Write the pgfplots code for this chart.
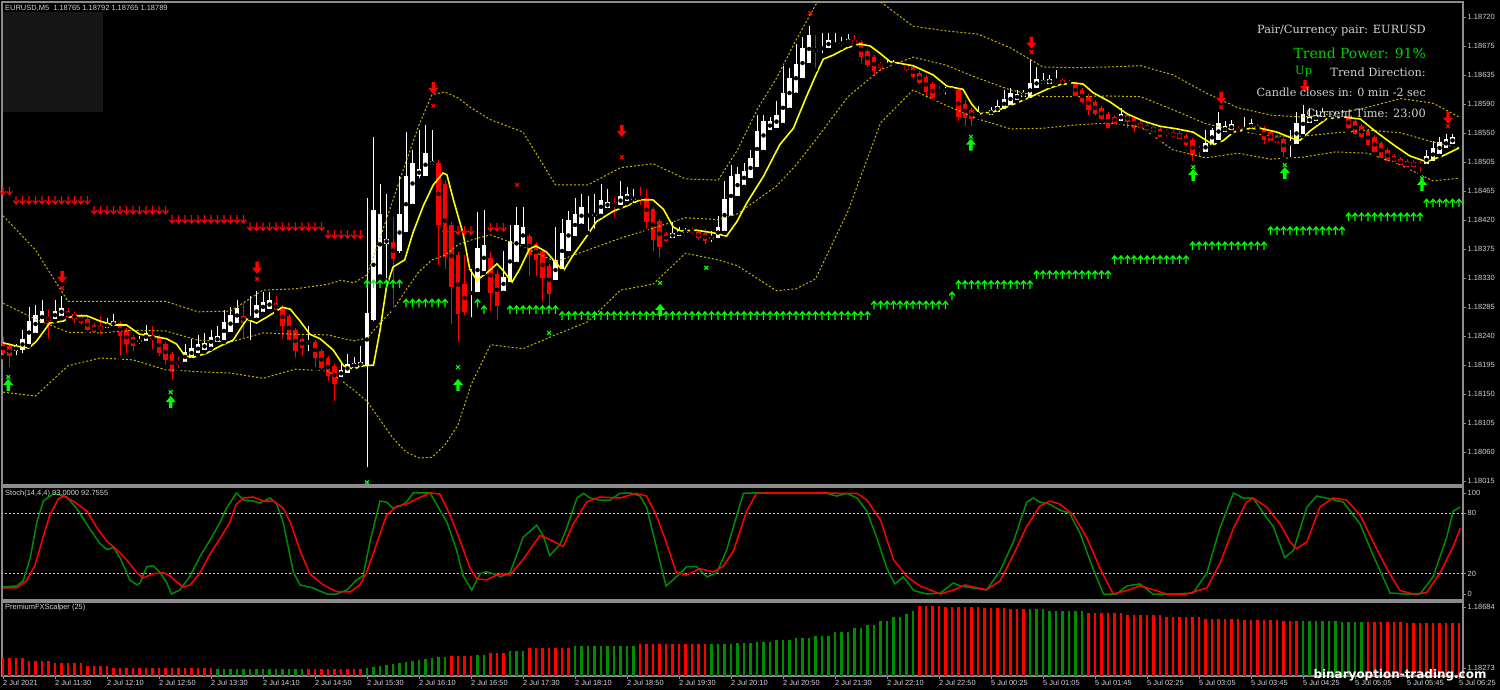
\documentclass[border=0pt]{standalone}
\usepackage{pgfplots}
\pgfplotsset{compat=1.18}
\usepackage{pgfplotstable}
\usepackage{fontspec}
\setmainfont{Liberation Sans}
\newfontfamily\dvserif{DejaVu Serif}
\newfontfamily\dvsans{DejaVu Sans}
\definecolor{cred}{RGB}{255,0,0}
\definecolor{cgreen}{RGB}{0,255,0}
\definecolor{sgreen}{RGB}{0,140,0}
\definecolor{band}{RGB}{200,180,0}
\definecolor{frame}{RGB}{140,140,140}
\definecolor{lbl}{RGB}{210,210,210}
\definecolor{myyellow}{RGB}{255,255,0}
\definecolor{darkbox}{RGB}{22,22,22}
\definecolor{tgreen}{RGB}{0,210,0}

\pgfdeclareplotmark{sdn}{%
  \pgfpathmoveto{\pgfqpoint{0bp}{4bp}}\pgfpathlineto{\pgfqpoint{0bp}{-4bp}}%
  \pgfpathmoveto{\pgfqpoint{-2.8bp}{-0.6bp}}\pgfpathlineto{\pgfqpoint{0bp}{-4bp}}\pgfpathlineto{\pgfqpoint{2.8bp}{-0.6bp}}%
  \pgfusepathqstroke}
\pgfdeclareplotmark{sup}{%
  \pgfpathmoveto{\pgfqpoint{0bp}{-4bp}}\pgfpathlineto{\pgfqpoint{0bp}{4bp}}%
  \pgfpathmoveto{\pgfqpoint{-2.8bp}{0.6bp}}\pgfpathlineto{\pgfqpoint{0bp}{4bp}}\pgfpathlineto{\pgfqpoint{2.8bp}{0.6bp}}%
  \pgfusepathqstroke}
\pgfdeclareplotmark{bdn}{%
  \pgfpathmoveto{\pgfqpoint{-1.7bp}{6bp}}\pgfpathlineto{\pgfqpoint{1.7bp}{6bp}}\pgfpathlineto{\pgfqpoint{1.7bp}{0bp}}%
  \pgfpathlineto{\pgfqpoint{5bp}{0bp}}\pgfpathlineto{\pgfqpoint{0bp}{-6bp}}\pgfpathlineto{\pgfqpoint{-5bp}{0bp}}%
  \pgfpathlineto{\pgfqpoint{-1.7bp}{0bp}}\pgfpathclose\pgfusepathqfill}
\pgfdeclareplotmark{bup}{%
  \pgfpathmoveto{\pgfqpoint{-1.7bp}{-6bp}}\pgfpathlineto{\pgfqpoint{1.7bp}{-6bp}}\pgfpathlineto{\pgfqpoint{1.7bp}{0bp}}%
  \pgfpathlineto{\pgfqpoint{5bp}{0bp}}\pgfpathlineto{\pgfqpoint{0bp}{6bp}}\pgfpathlineto{\pgfqpoint{-5bp}{0bp}}%
  \pgfpathlineto{\pgfqpoint{-1.7bp}{0bp}}\pgfpathclose\pgfusepathqfill}

\pgfplotsset{
  mt/.style={scale only axis, xmin=-0.154, xmax=224.615,
    axis line style={frame, line width=1.2bp},
    tick style={frame, line width=0.8bp}, major tick length=3bp, tick align=outside,
    ytick pos=right, yticklabel pos=right,
    yticklabel style={font=\fontsize{7.5}{8}\selectfont, text=lbl, inner sep=1.5bp},
    xtick=\empty, clip=true},
}

% candles: price offsets in points (1.18 + value/100000)
\pgfplotstableread[row sep=\\]{
i o h l c\\
0 225 234 203 209\\ 1 220 225 185 205\\ 2 212 223 203 220\\ 3 214 244 206 231\\ 4 223 279 220 258\\
5 240 282 237 267\\ 6 255 290 252 273\\ 7 264 275 228 258\\ 8 261 290 258 273\\ 9 266 296 263 278\\
10 273 278 260 264\\ 11 269 272 252 261\\ 12 266 269 249 255\\ 13 261 264 240 244\\ 14 252 255 237 241\\
15 250 266 234 244\\ 16 247 263 244 255\\ 17 250 269 247 258\\ 18 255 258 202 235\\ 19 244 247 206 223\\
20 234 237 209 220\\ 21 226 235 220 229\\ 22 228 252 225 240\\ 23 234 250 212 232\\ 24 234 237 202 209\\
25 223 226 188 199\\ 26 208 211 165 181\\ 27 196 203 184 194\\ 28 196 223 193 211\\ 29 202 231 199 217\\
30 209 237 206 223\\ 31 214 240 211 225\\ 32 219 244 216 234\\ 33 226 250 223 235\\ 34 229 275 226 257\\
35 241 279 238 267\\ 36 255 290 252 278\\ 37 266 285 228 255\\ 38 261 296 226 264\\ 39 263 304 260 282\\
40 272 302 269 287\\ 41 276 302 273 290\\ 42 285 296 272 275\\ 43 279 282 228 250\\ 44 266 269 225 229\\
45 244 247 199 212\\ 46 231 234 202 217\\ 47 225 250 209 226\\ 48 226 229 185 202\\ 49 212 216 181 187\\
50 202 205 164 174\\ 51 190 193 133 162\\ 52 173 196 170 184\\ 53 179 208 176 193\\ 54 187 203 184 194\\
55 188 220 185 196\\ 56 190 445 33 270\\ 57 260 538 255 427\\ 58 328 466 326 421\\ 59 375 451 320 383\\
60 378 416 275 352\\ 61 364 478 358 421\\ 62 393 545 390 478\\ 63 436 518 433 498\\ 64 478 548 472 489\\
65 478 556 475 513\\ 66 495 548 492 501\\ 67 498 503 340 404\\ 68 466 472 334 355\\ 69 404 409 250 310\\
70 358 363 223 269\\ 71 314 358 263 272\\ 72 299 337 261 302\\ 73 302 424 299 369\\ 74 334 427 331 374\\
75 354 363 270 301\\ 76 330 336 257 281\\ 77 304 364 301 325\\ 78 317 404 314 380\\ 79 348 431 345 404\\
80 375 431 372 401\\ 81 387 390 323 358\\ 82 375 378 323 351\\ 83 364 367 284 323\\ 84 342 345 278 299\\
85 320 401 317 351\\ 86 337 413 334 392\\ 87 364 425 361 412\\ 88 387 445 384 421\\ 89 405 451 403 431\\
90 418 448 392 419\\ 91 418 451 395 421\\ 92 421 466 418 442\\ 93 430 459 427 439\\ 94 437 445 412 431\\
95 434 471 431 448\\ 96 440 462 437 451\\ 97 443 459 434 445\\ 98 448 462 431 443\\ 99 445 459 395 409\\
100 428 431 361 381\\ 101 410 413 351 371\\ 102 390 393 375 380\\ 103 384 409 381 392\\ 104 387 401 384 396\\
105 392 399 389 396\\ 106 398 401 387 392\\ 107 393 396 378 384\\ 108 392 398 371 380\\ 109 383 395 375 386\\
110 384 418 381 401\\ 111 395 471 392 443\\ 112 418 495 415 478\\ 113 448 492 445 481\\ 114 465 498 462 486\\
115 475 518 472 506\\ 116 492 571 489 547\\ 117 518 571 515 562\\ 118 548 568 545 562\\ 119 551 592 548 571\\
120 559 646 556 605\\ 121 582 643 579 627\\ 122 605 679 602 649\\ 123 627 690 624 673\\ 124 650 706 647 693\\
125 672 693 640 667\\ 126 672 696 662 673\\ 127 673 696 670 685\\ 128 678 696 673 679\\ 129 679 690 673 681\\
130 679 694 678 687\\ 131 685 693 676 679\\ 132 682 685 646 659\\ 133 668 672 640 647\\ 134 659 662 627 638\\
135 649 652 634 643\\ 136 646 656 640 649\\ 137 647 655 643 649\\ 138 647 652 638 643\\ 139 646 649 634 640\\
140 644 647 623 629\\ 141 635 638 615 620\\ 142 629 632 594 606\\ 143 618 621 592 597\\ 144 609 615 599 605\\
145 608 614 599 609\\ 146 608 615 605 611\\ 147 609 612 559 568\\ 148 588 594 551 567\\ 149 579 582 551 565\\
150 571 585 568 573\\ 151 573 576 568 571\\ 152 571 583 568 579\\ 153 576 594 573 585\\ 154 580 609 577 596\\
155 586 612 583 605\\ 156 594 609 591 603\\ 157 599 609 596 605\\ 158 597 656 594 620\\ 159 612 644 609 626\\
160 618 635 615 624\\ 161 618 632 615 626\\ 162 623 640 618 624\\ 163 624 627 614 617\\ 164 621 624 614 617\\
165 618 621 597 600\\ 166 609 612 585 591\\ 167 600 603 568 579\\ 168 591 594 567 573\\ 169 582 585 562 565\\
170 573 576 547 551\\ 171 568 571 554 559\\ 172 562 582 559 573\\ 173 571 574 548 561\\ 174 567 570 542 551\\
175 559 562 547 551\\ 176 556 559 544 548\\ 177 553 556 541 545\\ 178 550 553 535 538\\ 179 547 550 535 542\\
180 545 548 533 538\\ 181 544 547 532 535\\ 182 539 542 521 526\\ 183 533 536 498 510\\ 184 521 524 504 515\\
185 515 548 512 529\\ 186 526 551 523 548\\ 187 533 576 530 559\\ 188 545 562 542 554\\ 189 548 564 545 557\\
190 551 554 542 545\\ 191 548 568 545 551\\ 192 550 565 547 559\\ 193 554 557 545 548\\ 194 551 554 524 533\\
195 545 548 529 532\\ 196 538 541 526 529\\ 197 535 538 504 515\\ 198 526 548 504 530\\ 199 527 576 524 559\\
200 542 586 539 573\\ 201 559 582 556 568\\ 202 562 579 559 571\\ 203 568 582 565 576\\ 204 571 574 564 567\\
205 567 576 564 571\\ 206 570 579 567 571\\ 207 568 571 547 551\\ 208 562 565 538 542\\ 209 554 557 533 538\\
210 547 550 521 526\\ 211 538 541 512 515\\ 212 529 532 503 506\\ 213 518 521 498 501\\ 214 509 512 497 500\\
215 504 507 492 495\\ 216 501 504 489 492\\ 217 500 503 489 492\\ 218 498 501 481 492\\ 219 497 518 494 509\\
220 501 532 498 521\\ 221 512 538 509 530\\ 222 521 542 518 535\\ 223 527 542 524 538\\ 224 535 538 529 532\\
}\candles

\begin{document}
\begin{tikzpicture}[x=1bp,y=1bp]
\fill[black] (0,0) rectangle (1500,690);
\path[use as bounding box] (0,0) rectangle (1500,690);
\fill[darkbox] (2,578) rectangle (103,678);

% ================= MAIN PRICE PANEL =================
\begin{axis}[mt, at={(2bp,205bp)}, anchor=south west, width=1461bp, height=483bp,
  ymin=8.9, ymax=742.8,
  ytick={720,675.94,631.87,587.81,543.75,499.69,455.62,411.56,367.5,323.44,279.37,235.31,191.25,147.19,103.12,59.06,15},
  yticklabels={1.18720,1.18675,1.18635,1.18590,1.18550,1.18505,1.18465,1.18420,1.18375,1.18330,1.18285,1.18240,1.18195,1.18150,1.18105,1.18060,1.18015}]

% wicks
\addplot[only marks, mark=none, error bars/.cd, y dir=plus, y explicit, error mark=none,
  error bar style={white, line width=1bp, solid}]
  table[x=i, y expr={\thisrow{c}>=\thisrow{o} ? \thisrow{l} : nan}, y error expr={\thisrow{h}-\thisrow{l}}] {\candles};
\addplot[only marks, mark=none, error bars/.cd, y dir=plus, y explicit, error mark=none,
  error bar style={cred, line width=1bp, solid}]
  table[x=i, y expr={\thisrow{c}<\thisrow{o} ? \thisrow{l} : nan}, y error expr={\thisrow{h}-\thisrow{l}}] {\candles};
% bodies
\addplot[only marks, mark=none, error bars/.cd, y dir=both, y explicit, error mark=none,
  error bar style={white, line width=4.8bp, solid}]
  table[x=i, y expr={\thisrow{c}>=\thisrow{o} ? (\thisrow{o}+\thisrow{c})/2 : nan}, y error expr={max(abs(\thisrow{c}-\thisrow{o})/2,0.8)}] {\candles};
\addplot[only marks, mark=none, error bars/.cd, y dir=both, y explicit, error mark=none,
  error bar style={cred, line width=4.8bp, solid}]
  table[x=i, y expr={\thisrow{c}<\thisrow{o} ? (\thisrow{o}+\thisrow{c})/2 : nan}, y error expr={max(abs(\thisrow{c}-\thisrow{o})/2,0.8)}] {\candles};

% bands
\addplot[band, line width=1bp, dash pattern=on 2bp off 2bp] coordinates {
(0,418)(5,366)(10,288)(15,288)(20,288)(25,288)(30,272)(35,273)(40,305)(45,307)(50,314)(52,320)(54,316)(56,328)(58,384)(60,442)(62,500)(64,556)(66,602)(68,606)(70,597)(72,582)(75,564)(80,545)(85,465)(90,465)(95,491)(100,497)(105,474)(110,472)(113,518)(116,579)(119,627)(122,685)(125,738)(128,784)(132,784)(135,743)(140,706)(145,699)(150,694)(155,673)(160,644)(165,643)(170,644)(175,646)(180,632)(185,605)(190,582)(195,571)(200,568)(205,573)(210,583)(215,596)(220,589)(224,568)};
\addplot[band, line width=1bp, dash pattern=on 2bp off 2bp] coordinates {
(0,285)(5,261)(10,241)(15,240)(20,244)(25,243)(30,229)(35,226)(40,240)(45,238)(50,237)(52,232)(54,228)(56,232)(58,255)(60,275)(62,305)(64,333)(66,351)(68,358)(70,374)(72,381)(75,389)(80,371)(85,348)(90,366)(95,384)(100,399)(105,415)(110,412)(113,421)(116,442)(119,463)(122,495)(125,533)(130,599)(135,640)(140,659)(145,647)(150,627)(155,609)(160,599)(165,599)(170,600)(175,599)(180,579)(185,558)(190,547)(195,539)(200,539)(205,544)(210,548)(215,544)(220,530)(224,521)};
\addplot[band, line width=1bp, dash pattern=on 2bp off 2bp] coordinates {
(0,150)(5,144)(10,190)(15,202)(20,199)(25,184)(30,181)(35,179)(40,171)(45,185)(50,182)(52,168)(54,153)(56,136)(58,108)(60,80)(62,59)(64,50)(66,51)(68,70)(70,100)(72,161)(75,222)(80,216)(85,237)(90,257)(95,305)(100,314)(105,361)(110,351)(113,342)(116,323)(119,304)(122,307)(125,322)(130,425)(135,559)(140,609)(145,586)(150,565)(155,550)(160,551)(165,556)(170,559)(175,553)(180,518)(185,506)(190,513)(195,504)(200,507)(205,515)(210,513)(215,495)(220,471)(224,475)};

% moving average
\addplot[myyellow, line width=1.6bp] coordinates {
(0,225)(2,220)(4,217)(5.2,228)(7.2,255)(9.3,258)(10.8,266)(12.9,266)(14.9,258)(17,252)(19,252)(21,238)(23.1,235)(25.2,231)(26.7,223)(28,205)(29.3,203)(31.3,209)(33.4,220)(35.4,229)(37.5,261)(39,255)(40.6,264)(43,279)(44.2,276)(45.7,258)(47.2,238)(48.8,231)(50.8,214)(52.4,190)(53.9,185)(55.4,190)(57,191)(58,244)(59,310)(60,340)(61.8,351)(63.1,393)(64.7,434)(66.2,465)(67.7,483)(68.3,480)(69.3,442)(70.8,390)(71.8,337)(72.9,320)(74.4,331)(76,345)(77,334)(78.3,317)(79.5,337)(81,368)(82,372)(83.6,363)(85.2,345)(86.2,334)(87.7,358)(89.8,387)(91.3,409)(93.9,425)(96,433)(98,442)(100,442)(101.6,428)(103.1,401)(104.2,395)(106.7,396)(109.3,392)(111.3,387)(112.9,409)(114.4,437)(117,478)(119.5,526)(121.6,551)(123.6,599)(125.2,635)(126.2,656)(127.7,662)(129.8,673)(131.8,679)(133.4,676)(134.9,665)(136.5,652)(140,646)(143.1,632)(145.2,615)(147.7,610)(149,588)(150.3,573)(152.4,576)(154.9,585)(157.5,596)(159.5,605)(161,612)(162.6,617)(164.7,620)(166.2,618)(167.7,605)(170.3,591)(172.9,573)(175.4,562)(178,554)(180.6,550)(183.1,545)(185.2,532)(186.2,526)(187.7,532)(189.3,545)(191.3,550)(193.4,551)(196,545)(198.5,535)(199.6,533)(201.1,547)(203.6,565)(206.2,568)(208.8,565)(211.3,545)(213.9,526)(216.4,509)(219,500)(221.5,509)(224,521)};

% resistance level arrows
\addplot[only marks, mark=sdn, cred, line width=1.2bp] coordinates {
(0,456)(1,456)(2,442)(3,442)(4,442)(5,442)(6,442)(7,442)(8,442)(9,442)(10,442)(11,442)(12,442)(13,442)
(14,427)(15,427)(16,427)(17,427)(18,427)(19,427)(20,427)(21,427)(22,427)(23,427)(24,427)(25,427)
(26,413)(27,413)(28,413)(29,413)(30,413)(31,413)(32,413)(33,413)(34,413)(35,413)(36,413)(37,413)
(38,402)(39,402)(40,402)(41,402)(42,402)(43,402)(44,402)(45,402)(46,402)(47,402)(48,402)(49,402)
(50,390)(51,390)(52,390)(53,390)(54,390)(55,390)
(68,396)(69,396)(70,396)(71,396)(72,396)(75,401)(76,401)(77,401)};
% support level arrows
\addplot[only marks, mark=sup, cgreen, line width=1.2bp] coordinates {
(56,314)(57,314)(58,314)(59,314)(60,314)(61,314)
(62,285)(63,285)(64,285)(65,285)(66,285)(67,285)(68,285)(73,285)(74,275)
(78,275)(79,275)(80,275)(81,275)(82,275)(83,275)(84,275)(85,275)
(86,266)(87,266)(88,266)(89,266)(90,266)(91,266)(92,266)(93,266)(94,266)(95,266)(96,266)(97,266)
(98,266)(99,266)(100,266)(101,266)(102,266)(103,266)(104,266)(105,266)(106,266)(107,266)(108,266)(109,266)
(110,266)(111,266)(112,266)(113,266)(114,266)(115,266)(116,266)(117,266)(118,266)(119,266)(120,266)(121,266)
(122,266)(123,266)(124,266)(125,266)(126,266)(127,266)(128,266)(129,266)(130,266)(131,266)(132,266)(133,266)
(134,282)(135,282)(136,282)(137,282)(138,282)(139,282)(140,282)(141,282)(142,282)(143,282)(144,282)(145,282)(146,296)
(147,313)(148,313)(149,313)(150,313)(151,313)(152,313)(153,313)(154,313)(155,313)(156,313)(157,313)(158,313)
(159,328)(160,328)(161,328)(162,328)(163,328)(164,328)(165,328)(166,328)(167,328)(168,328)(169,328)(170,328)
(171,351)(172,351)(173,351)(174,351)(175,351)(176,351)(177,351)(178,351)(179,351)(180,351)(181,351)(182,351)
(183,372)(184,372)(185,372)(186,372)(187,372)(188,372)(189,372)(190,372)(191,372)(192,372)(193,372)(194,372)
(195,395)(196,395)(197,395)(198,395)(199,395)(200,395)(201,395)(202,395)(203,395)(204,395)(205,395)(206,395)
(207,416)(208,416)(209,416)(210,416)(211,416)(212,416)(213,416)(214,416)(215,416)(216,416)(217,416)(218,416)
(219,437)(220,437)(221,437)(222,437)(223,437)(224,437)};
% signal arrows
\addplot[only marks, mark=bdn, mark options={fill=cred, draw=none}] coordinates {
(9.1,325)(39.1,339)(66.2,612)(95.2,547)(158.2,681)(187.4,597)(200.3,615)(222.3,567)};
\addplot[only marks, mark=x, mark size=2.6bp, cred, line width=1.2bp] coordinates {
(9.1,308)(39.1,322)(66.2,585)(95.2,507)(79.1,465)(124.2,726)(158.2,667)(187.4,583)(222.3,554)};
\addplot[only marks, mark=bup, mark options={fill=cgreen, draw=none}] coordinates {
(0.8,161)(25.8,135)(70,161)(101.1,275)(148.9,526)(183.1,480)(197.2,483)(218.3,465)};
\addplot[only marks, mark=x, mark size=2.6bp, cgreen, line width=1.2bp] coordinates {
(0.8,173)(25.8,150)(70,188)(56,13)(84,240)(101.1,316)(108.2,339)(148.9,538)(183.1,492)(197.2,495)(218.3,475)};
\end{axis}

% ================= STOCHASTIC PANEL =================
\begin{axis}[mt, at={(2bp,90bp)}, anchor=south west, width=1461bp, height=113bp,
  ymin=-5.9, ymax=105.9, ytick={100,80,20,0}, yticklabels={100,80,20,0}]
\addplot[lbl, line width=0.8bp, dash pattern=on 2bp off 2bp] coordinates {(-1,80)(226,80)};
\addplot[lbl, line width=0.8bp, dash pattern=on 2bp off 2bp] coordinates {(-1,20)(226,20)};
\addplot[sgreen, line width=1.5bp] coordinates {
(0,7)(2.1,8)(3.1,13)(4.2,36)(5.2,71)(6.2,92)(7.7,99)(8.8,98)(9.8,96)(11.3,85)(13.4,64)(14.9,50)(16,44)(17,46)(18,36)(19.5,14)(20.6,9)(21.1,11)(22.1,27)(23.1,28)(24.2,21)(25.2,11)(25.9,0)(27.2,4)(28.8,18)(30.3,37)(31.8,53)(33.4,71)(34.4,85)(35.9,100)(37,93)(38.5,92)(39.5,90)(41.1,95)(42.1,89)(43.1,71)(44.7,21)(45.7,9)(47.7,6)(49.8,0)(51.3,0)(52.9,4)(54.4,14)(55.4,18)(56.5,53)(58,92)(59,91)(60,85)(61.1,87)(62.1,91)(63.1,100)(64.7,100)(65.7,100)(66.7,89)(68.3,71)(69.8,43)(70.8,18)(72.1,4)(73.4,20)(74.4,22)(76,19)(76.5,17)(78,21)(79,38)(80,56)(82.1,68)(83.1,58)(84.1,38)(85.7,49)(86.7,65)(88.3,95)(89.3,99.6)(90.3,95)(91.8,93)(93.4,93)(94.9,99.6)(96.5,100)(98,97)(99,86)(100.5,47)(102,8)(103.6,17)(105.2,27)(106.7,27)(108.3,17)(109.8,21)(111.3,43)(112.9,78)(113.9,99.6)(115.4,100)(124,100)(125.2,100)(126.7,99.6)(128.3,97)(129.8,99.6)(131.4,95)(132.9,82)(134.4,56)(136,25)(137.2,10)(138.5,17)(140.1,3.5)(142.1,0)(144.2,1)(146.2,11)(147.2,8)(149.3,6)(151.3,4)(153.4,23)(155.4,51)(157.5,91)(158.5,95)(159.5,91)(161,89)(162.6,83)(164.1,80)(165.7,60)(167.7,25)(169.3,0)(171.3,0)(172.9,8)(174.9,10)(176.9,0)(180,0)(183.1,1)(185.2,21)(187.2,65)(189.3,100)(190.8,95)(192.3,95)(193.9,80)(195.4,67)(197.2,36)(198.5,43)(200.6,86)(202.1,97)(204.2,94)(206.2,91)(208.8,69)(210.8,38)(213.4,1)(215.9,0)(218,0)(220,17)(222.1,56)(223.1,82)(224.2,86)};
\addplot[cred, line width=1.5bp] coordinates {
(0,6)(2.1,6)(3.6,13)(4.9,28)(6.2,57)(7.2,78)(8.5,94)(9.3,97)(10.8,92)(12.9,82)(14.4,66)(16,52)(17.5,44)(19,34)(20.6,21)(21.6,16)(23.1,20)(24.7,21)(25.7,18)(26.7,12)(27.7,7)(28.8,9)(30.3,21)(31.8,39)(33.4,55)(34.9,71)(35.9,89)(37,95)(38.5,96)(40.1,92)(41.6,92)(43.1,85)(44.2,71)(45.7,43)(47.2,20)(49.3,9)(51.3,2.5)(53.4,2)(54.9,9)(55.9,21)(57.5,50)(59,78)(60.6,87)(62.1,89)(63.6,94)(65.7,100)(67.2,99)(68.8,78)(70.3,53)(71.9,25)(72.9,15)(74.4,14)(76,19)(76.5,20)(78,19)(80,34)(82.6,58)(84.1,54)(86.2,47)(87.7,69)(89.8,91)(91.8,96)(94.9,95)(97.4,99.6)(99,97)(100.5,78)(102,52)(103.6,21)(105.2,19)(107.2,25)(109.3,22)(110.8,27.5)(112.4,43)(114.4,82)(115.9,99.6)(117.5,100)(124,100)(126.7,100)(128.9,99.6)(131.4,99.6)(132.9,93)(135,73)(137,34)(139.1,17)(141.1,8)(144.2,0)(146.2,4)(148,9)(150,6)(151.3,4.4)(153.4,13)(155.4,38)(157.5,67)(159.5,87)(161,92)(162.6,89)(164.7,78)(166.7,56)(168.8,25)(170.8,0)(172.9,3.5)(174.9,8)(176.9,4.4)(179,0)(182.1,0)(185.2,6)(187.2,30)(189.3,65)(191.3,91)(192.3,95)(194.4,86)(196.5,69)(198,51.5)(199,45)(200.6,51.5)(202.6,86)(204.6,95)(206.7,93)(208.8,78)(210.8,51.5)(212.9,25)(214.9,3.5)(217,0)(219,1.3)(221.1,21)(223.1,47)(224.2,65)};
\end{axis}

% ================= PREMIUM FX SCALPER PANEL =================
\begin{axis}[mt, at={(2bp,14bp)}, anchor=south west, width=1461bp, height=74bp,
  ymin=218.9, ymax=717.7, ytick={684,273}, yticklabels={1.18684,1.18273},
  xtick={0,8,...,224}, xtick pos=bottom, xticklabel pos=bottom,
  xticklabels={2 Jul 2021,2 Jul 11:30,2 Jul 12:10,2 Jul 12:50,2 Jul 13:30,2 Jul 14:10,2 Jul 14:50,2 Jul 15:30,2 Jul 16:10,2 Jul 16:50,2 Jul 17:30,2 Jul 18:10,2 Jul 18:50,2 Jul 19:30,2 Jul 20:10,2 Jul 20:50,2 Jul 21:30,2 Jul 22:10,2 Jul 22:50,5 Jul 00:25,5 Jul 01:05,5 Jul 01:45,5 Jul 02:25,5 Jul 03:05,5 Jul 03:45,5 Jul 04:25,5 Jul 05:05,5 Jul 05:45,5 Jul 06:25},
  xticklabel style={font=\fontsize{7.5}{8}\selectfont, text=lbl, anchor=north west, inner sep=1bp, xshift=-1bp}]
\addplot[ycomb, cred, line width=2.2bp] coordinates {
(0,340)(1,340)(2,340)(3,340)(4,320)(5,320)(6,320)(7,320)(8,307)(9,307)(10,307)(11,307)(12,307)(13,286)(14,286)(15,286)(16,286)
(17,273)(18,273)(19,273)(20,273)(21,273)(22,273)(23,273)(24,273)(25,273)(26,273)(27,273)(28,273)(29,273)(30,273)(31,273)(32,273)
(47,266)(48,266)(49,266)(50,266)(51,266)(52,266)(53,266)(54,266)(55,266)
(69,354)(70,354)(71,354)(72,354)(75,374)(76,374)(77,374)
(81,408)(82,408)(83,408)(84,408)(85,408)(86,408)(87,408)
(98,435)(99,435)(100,435)(101,435)(102,435)(103,435)(104,435)(105,435)(106,435)(107,435)(108,435)
(141,691)(142,691)(143,691)(144,691)(145,684)(146,684)(147,684)(148,684)(149,684)(150,684)(151,677)(152,677)(153,677)(154,677)(155,671)(156,671)(157,671)
(167,644)(168,644)(169,644)(170,644)(171,644)(172,644)(173,630)(174,630)(175,630)(176,630)(177,630)(178,630)
(179,617)(180,617)(181,617)(182,617)(183,617)(184,617)(185,603)(186,603)(187,603)(188,603)(189,603)(190,603)
(191,596)(192,596)(193,596)(194,596)(195,596)(196,596)(197,590)(198,590)(199,590)
(210,583)(211,583)(212,583)(213,583)(214,583)(215,583)(216,576)(217,576)(218,576)(219,576)(220,576)(221,576)(222,576)(223,576)(224,576)};
\addplot[ycomb, sgreen, line width=2.2bp] coordinates {
(33,266)(34,266)(35,266)(36,266)(37,266)(38,266)(39,266)(40,266)(41,266)(42,266)(43,266)(44,266)(45,266)(46,266)
(56,273)(57,280)(58,286)(59,293)(60,300)(61,307)(62,313)(63,320)(64,327)(65,334)(66,340)(67,347)(68,347)
(73,360)(74,360)(78,387)(79,387)(80,387)
(88,421)(89,421)(90,421)(91,421)(92,421)(93,421)(94,421)(95,421)(96,421)(97,421)
(109,435)(110,435)(111,435)(112,435)(113,441)(114,441)(115,441)(116,448)(117,448)(118,448)(119,462)(120,462)(121,462)
(122,475)(123,475)(124,475)(125,488)(126,488)(127,488)(128,515)(129,515)(130,515)(131,542)(132,542)(133,563)(134,563)
(135,590)(136,590)(137,617)(138,617)(139,637)(140,657)
(158,671)(159,671)(160,671)(161,657)(162,657)(163,657)(164,657)(165,657)(166,657)
(200,590)(201,590)(202,590)(203,590)(204,590)(205,590)(206,583)(207,583)(208,583)(209,583)};
\end{axis}

% ================= TEXT OVERLAYS =================
\node[anchor=west, inner sep=0, text=lbl, font=\fontsize{7.5}{8}\selectfont] at (5,682) {EURUSD,M5\ \ 1.18765 1.18792 1.18765 1.18789};
\node[anchor=west, inner sep=0, text=lbl, font=\fontsize{7.5}{8}\selectfont] at (5,196) {Stoch(14,4,4) 93.0000 92.7555};
\node[anchor=west, inner sep=0, text=lbl, font=\fontsize{7.5}{8}\selectfont] at (5,82) {PremiumFXScalper (25)};
\node[anchor=east, inner sep=0, text=lbl, font=\dvserif\fontsize{11.4}{13}\selectfont] at (1426,659) {Pair/Currency pair: EURUSD};
\node[anchor=east, inner sep=0, text=tgreen, font=\dvserif\fontsize{14}{16}\selectfont] at (1426,637) {Trend Power: 91\%};
\node[anchor=west, inner sep=0, text=tgreen, font=\dvserif\fontsize{11.4}{13}\selectfont] at (1295,618) {Up};
\node[anchor=east, inner sep=0, text=lbl, font=\dvserif\fontsize{11.4}{13}\selectfont] at (1426,618) {Trend Direction:};
\node[anchor=east, inner sep=0, text=lbl, font=\dvserif\fontsize{11.2}{13}\selectfont] at (1426,598) {Candle closes in: 0 min -2 sec};
\node[anchor=east, inner sep=0, text=lbl, font=\dvserif\fontsize{11.4}{13}\selectfont] at (1426,577) {Current Time: 23:00};
\node[anchor=center, inner sep=0, text=white, font=\dvsans\bfseries\fontsize{12}{13}\selectfont] at (1400,15) {binaryoption-trading.com};
\end{tikzpicture}
\end{document}
